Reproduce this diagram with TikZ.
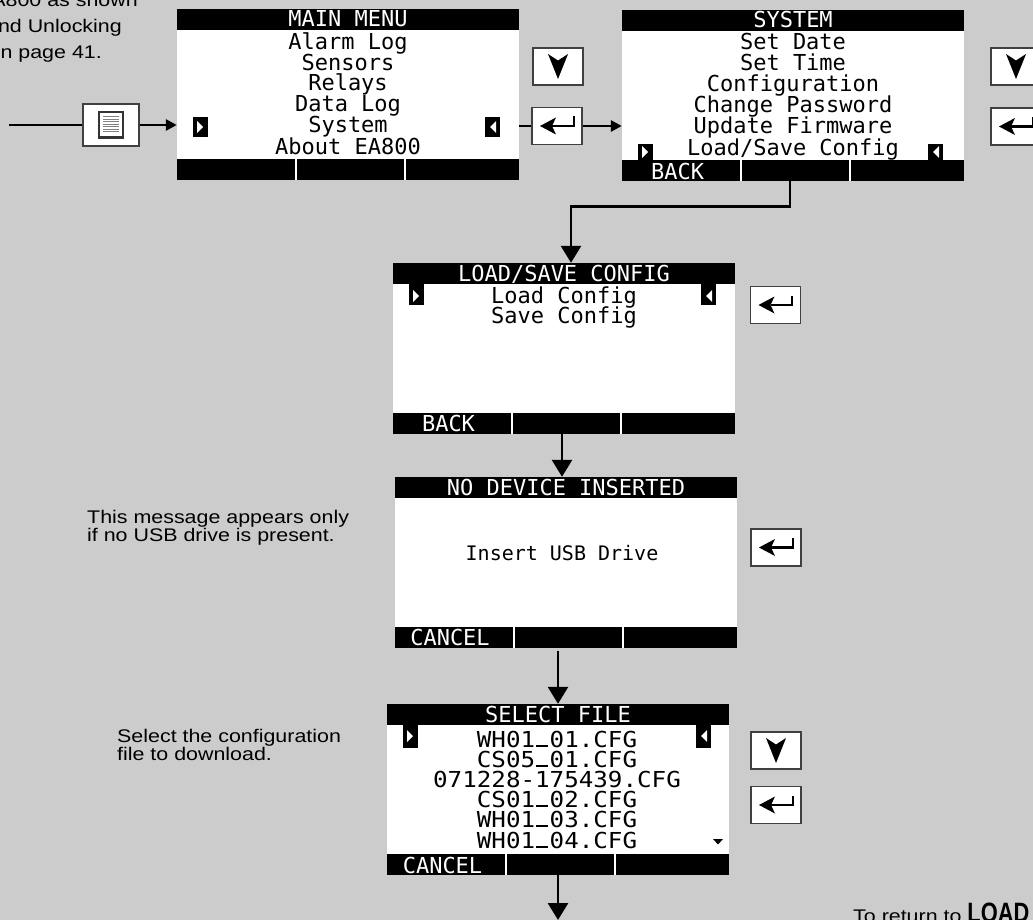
\documentclass[tikz,border=0pt]{standalone}
\usepackage{fontspec}
\setmainfont{Liberation Sans}
\newfontfamily\lcdfont{DejaVu Sans Mono}
\newfontfamily\lcdwide[FakeStretch=1.1]{DejaVu Sans Mono}
\newfontfamily\bodyfont[FakeStretch=1.17]{Liberation Sans}
\newfontfamily\condfont[FakeStretch=0.78]{Liberation Sans}
\usetikzlibrary{arrows.meta}
\definecolor{bg}{gray}{0.8}
\definecolor{keyline}{gray}{0.25}
\definecolor{icondark}{gray}{0.2}
\newcommand\lcdA{\lcdfont\fontsize{22}{22}\selectfont}
\newcommand\lcdB{\lcdwide\fontsize{22}{22}\selectfont}
\newcommand\lcdC{\lcdfont\fontsize{20}{20}\selectfont}
\newcommand\bodysize{\bodyfont\fontsize{18.3}{19}\selectfont}
\newcommand\us{\makebox[0.662em][c]{\rule[0.02em]{0.55em}{0.08em}}}
\newcommand\lcdscr[3]{%
  \node[screen] (#1) at (#2+171,#3+85.5) {};
  \fill[black] (#2,#3) rectangle (#2+342,#3+21);
  \fill[black] (#2,#3+150) rectangle (#2+342,#3+171);
  \draw[white,line width=2pt] (#2+119,#3+150) -- (#2+119,#3+171);
  \draw[white,line width=2pt] (#2+228,#3+150) -- (#2+228,#3+171);
}
\newcommand\markR[4]{\fill[black] (#1,#2) rectangle (#1+15,#3);
  \fill[white] (#1+4,#4-6) -- (#1+10,#4) -- (#1+4,#4+6) -- cycle;}
\newcommand\markL[4]{\fill[black] (#1,#2) rectangle (#1+15,#3);
  \fill[white] (#1+11,#4-6) -- (#1+5,#4) -- (#1+11,#4+6) -- cycle;}
\newcommand\downicon[1]{\begin{scope}[shift={(#1.center)}]
  \fill[black] (-10,-12.5) -- (0,-6) -- (10,-12.5) -- (0,12.5) -- cycle;\end{scope}}
\newcommand\entericon[1]{\begin{scope}[shift={(#1.center)}]
  \fill[black] (-17,0) -- (-1,-8.5) -- (-5,0) -- (-1,8.5) -- cycle;
  \draw[line width=2.5pt] (-5,0) -- (16.5,0);
  \draw[line width=2pt] (16.5,1.25) -- (16.5,-9.5);\end{scope}}
\begin{document}
\begin{tikzpicture}[x=1pt,y=-1pt,
  screen/.style={rectangle,fill=white,draw=none,minimum width=342pt,minimum height=171pt,inner sep=0pt},
  keybox/.style={rectangle,fill=white,draw=keyline,line width=1.1pt,minimum width=50pt,minimum height=37pt,inner sep=0pt},
  lcdrow/.style={font=\lcdA,inner sep=0pt,anchor=base},
  lcdbig/.style={font=\lcdB,inner sep=0pt,anchor=base,text height=16pt,text depth=0pt},
  hdr/.style={lcdrow,text=white},
  body/.style={font=\bodysize,inner sep=0pt,anchor=base west},
  conn/.style={line width=2.8pt,draw=black},
  arrV/.style={-{Triangle[length=17pt,width=20pt]}},
  arrH/.style={-{Triangle[length=11pt,width=11pt]}}]
\path[use as bounding box,fill=bg] (0,0) rectangle (1033,920);
\clip (0,0) rectangle (1033,920);

% top-left text (cut off at the left edge)
\node[font=\bodysize,inner sep=0pt,anchor=base east] (tl1) at (138,7) {EA800 as shown};
\node[font=\bodysize,inner sep=0pt,anchor=base east] (tl2) at (122,33) {and Unlocking};
\node[font=\bodysize,inner sep=0pt,anchor=base east] (tl3) at (102,59) {on page 41.};

% screens
\lcdscr{S1}{177}{9}
\lcdscr{S2}{622}{10}
\lcdscr{S3}{393}{263}
\lcdscr{S4}{395}{477}
\lcdscr{S5}{387}{704}

% screen 1
\node[hdr] (s1h) at (348,27) {MAIN MENU};
\foreach \t/\yy [count=\i] in {Alarm Log/50,Sensors/70.5,Relays/91,Data Log/112,System/133,About EA800/155}
  \node[lcdrow] (s1r\i) at (348,\yy) {\t};
\markR{193}{117}{137}{127}
\markL{485}{117}{137}{127}

% screen 2
\node[hdr] (s2h) at (793,28) {SYSTEM};
\foreach \t/\yy [count=\i] in {Set Date/50,Set Time/71,Configuration/92,Change Password/112.5,Update Firmware/133.5,{Load/Save Config}/156}
  \node[lcdrow] (s2r\i) at (793,\yy) {\t};
\markR{638}{144}{160}{152}
\markL{928}{144}{160}{152}
\node[hdr] (s2b) at (677.5,179.5) {BACK};

% screen 3
\node[hdr] (s3h) at (564,281) {LOAD/SAVE CONFIG};
\node[lcdrow] (s3r1) at (564,303) {Load Config};
\node[lcdrow] (s3r2) at (564,323) {Save Config};
\markR{409}{283}{305}{296}
\markL{701}{283}{305}{296}
\node[hdr] (s3b) at (448.5,431.5) {BACK};

% screen 4
\node[hdr] (s4h) at (566,495) {NO DEVICE INSERTED};
\node[font=\lcdC,inner sep=0pt,anchor=base] (s4r1) at (562,560) {Insert USB Drive};
\node[hdr] (s4b) at (450,645) {CANCEL};

% screen 5
\node[hdr] (s5h) at (558,722) {SELECT FILE};
\foreach \t/\yy [count=\i] in {WH01\us01.CFG/747,CS05\us01.CFG/767,071228-175439.CFG/787,CS01\us02.CFG/807,WH01\us03.CFG/827,WH01\us04.CFG/848}
  \node[lcdbig] (s5r\i) at (557,\yy) {\t};
\markR{403}{724}{748}{736}
\markL{696}{724}{748}{736}
\fill[black] (713,839) -- (723,839) -- (718,844.5) -- cycle;
\node[hdr] (s5b) at (442.5,873) {CANCEL};

% side texts
\node[body] (m1) at (87,523) {This message appears only};
\node[body] (m2) at (87,541) {if no USB drive is present.};
\node[body] (f1) at (117,742) {Select the configuration};
\node[body] (f2) at (117,760) {file to download.};
\node[body] (ret) at (853,922.5) {To return to {\condfont\fontsize{28}{28}\selectfont\bfseries LOAD}};

% keys
\node[keybox,minimum width=56pt,minimum height=42pt] (Km) at (111,125) {};
\begin{scope}[shift={(Km.center)}]
  \draw[line width=2.5pt,draw=icondark,fill=white] (-12,-13) rectangle (12,12.5);
  \foreach \yy in {-8.5,-6,-3.5,-1,1.5,4,6.5}
    \draw[line width=0.9pt,draw=gray] (-8,\yy) -- (8,\yy);
\end{scope}
\node[keybox] (D1) at (558,66.5) {};
\node[keybox] (E1) at (557,126) {};
\node[keybox] (D2) at (1016,66.5) {};
\node[keybox] (E2) at (1016,126.5) {};
\node[keybox] (E3) at (775.5,305) {};
\node[keybox] (E4) at (776,547.5) {};
\node[keybox] (D5) at (776,750.5) {};
\node[keybox] (E5) at (776,805) {};
\downicon{D1}\downicon{D2}\downicon{D5}
\entericon{E1}\entericon{E2}\entericon{E3}\entericon{E4}\entericon{E5}

% connectors
\coordinate (in) at (9,125);
\draw[conn] (in) -- (Km.west);
\draw[conn,arrH] (Km.east) -- (Km.east -| S1.west);
\draw[conn] (E1.west -| S1.east) -- (E1.west);
\draw[conn,arrH] (E1.east) -- (E1.east -| S2.west);
\draw[conn,arrV] ([xshift=-3pt]S2.south) -- ++(0,25) -| ([xshift=7pt]S3.north);
\coordinate (s3out) at ([xshift=-2pt]S3.south);
\draw[conn,arrV] (s3out) -- (s3out |- S4.north);
\coordinate (s4out) at ([yshift=-3pt]S4.south);
\draw[conn,arrV] (s4out -| S5.north) -- (S5.north);
\coordinate (out) at (558,920);
\draw[conn,arrV] (S5.south) -- (out);
\end{tikzpicture}
\end{document}
